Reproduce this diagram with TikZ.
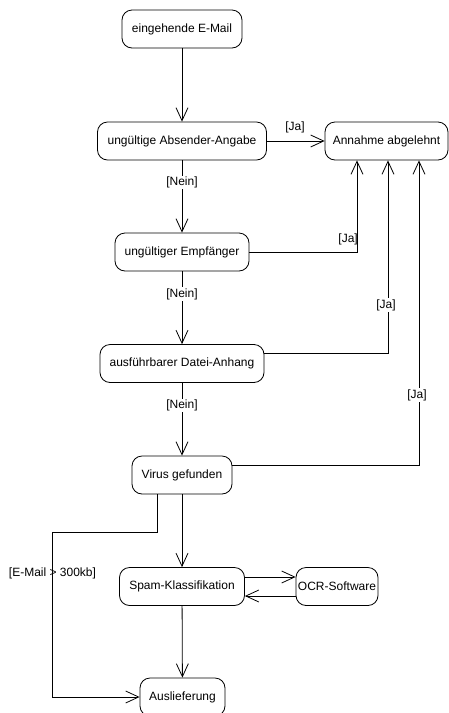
\documentclass[tikz,border=0pt]{standalone}
\usepackage{fontspec}
\setmainfont{Liberation Sans}
\usetikzlibrary{arrows.meta}
\begin{document}
\begin{tikzpicture}[x=1pt,y=-1pt,
  box/.style={draw, line width=0.8pt, rounded corners=10pt, minimum height=38pt, inner sep=0pt, font=\fontsize{12}{14}\selectfont},
  arr/.style={draw, line width=0.8pt, -{Straight Barb[length=13pt,width=12pt,line width=0.8pt]}},
  con/.style={draw, line width=0.8pt},
  lbl/.style={font=\fontsize{12}{14}\selectfont, inner sep=1pt},
  wlbl/.style={lbl, fill=white}]
\useasboundingbox (0,0) rectangle (449,713);
\node[box, minimum width=120pt] (e) at (182,29) {eingehende E-Mail};
\node[box, minimum width=169pt] (a) at (182,141) {ungültige Absender-Angabe};
\node[box, minimum width=123pt] (r) at (386.5,141) {Annahme abgelehnt};
\node[box, minimum width=134pt] (emp) at (182,252) {ungültiger Empfänger};
\node[box, minimum width=164pt] (d) at (182,363.5) {ausführbarer Datei-Anhang};
\node[box, minimum width=100pt] (v) at (182,475) {Virus gefunden};
\node[box, minimum width=125pt] (s) at (182,586.5) {Spam-Klassifikation};
\node[box, minimum width=82pt] (o) at (337,586.5) {OCR-Software};
\node[box, minimum width=85pt] (l) at (182.5,697) {Auslieferung};
% main column
\draw[arr] (e) -- (a);
\draw[arr] (a) -- (r);
\node[lbl] (ja1) at (295,127) {[Ja]};
\draw[arr] (a) -- node[wlbl, pos=0.31] (n1) {[Nein]} (emp);
\draw[arr] (emp) -- node[wlbl, pos=0.31] (n2) {[Nein]} (d);
\draw[arr] (d) -- node[wlbl, pos=0.31] (n3) {[Nein]} (v);
\draw[arr] (v) -- (s);
\draw[arr] (s) -- (l);
% to Annahme abgelehnt
\draw[arr] (emp.east) -| ([xshift=-29.5pt]r.south);
\node[lbl, anchor=east] (ja2) at (359,239) {[Ja]};
\draw[arr] ([yshift=10.5pt]d.east) -| ([xshift=1.5pt]r.south);
\node[wlbl] (ja3) at (386,305) {[Ja]};
\draw[arr] ([yshift=10pt]v.east) -| ([xshift=32.5pt]r.south);
\node[wlbl] (ja4) at (417,395) {[Ja]};
% bypass
\coordinate (k1) at (52,532);
\draw[arr] ([xshift=-25pt]v.south) |- (k1) |- (l.west);
\node[lbl] (big) at (52.5,573) {[E-Mail > 300kb]};
% OCR loop
\draw[arr] ([yshift=9.5pt]s.east) -- ([yshift=9.5pt]o.west);
\draw[arr] ([yshift=-9.5pt]o.west) -- ([yshift=-9.5pt]s.east);
\end{tikzpicture}
\end{document}
